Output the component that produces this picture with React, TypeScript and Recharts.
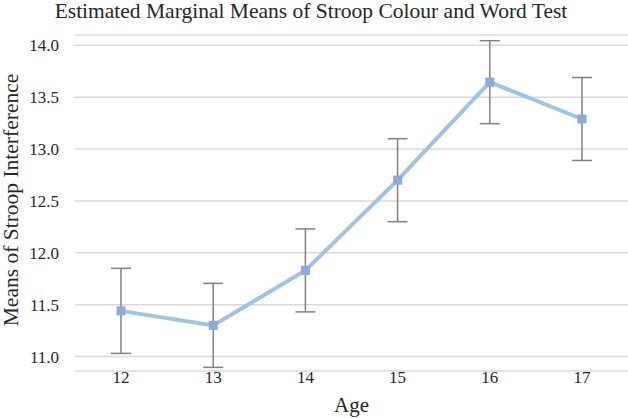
import { CartesianGrid, ErrorBar, Label, Line, LineChart, XAxis, YAxis } from 'recharts'

const ages = ['12', '13', '14', '15', '16', '17']
const means = [11.44, 11.3, 11.83, 12.7, 13.645, 13.29]
const errors = [0.41, 0.405, 0.4, 0.4, 0.4, 0.4]
const yTicks = [11, 11.5, 12, 12.5, 13, 13.5, 14]

const data = ages.map((age, i) => ({ age, mean: means[i], err: errors[i] }))

const font = '"Liberation Serif", "Times New Roman", serif'
const textColor = '#262626'
const tickFont = { fontFamily: font, fontSize: '17px', fill: textColor }

function SquareDot(props: any) {
  const { cx, cy } = props
  if (cx == null || cy == null) return null
  return <rect x={cx - 4.5} y={cy - 4.5} width={9} height={9} fill="#8eaadb" />
}

const renderXTick = (props: any) => (
  <g key={`x-${props.index}`} transform={`translate(${props.x},${props.y})`}>
    <text textAnchor="middle" style={tickFont}>
      <tspan x={0} dy="0.71em" style={tickFont}>
        {props.payload.value}
      </tspan>
    </text>
  </g>
)

const renderYTick = (props: any) => (
  <g key={`y-${props.index}`} transform={`translate(${props.x},${props.y})`}>
    <text textAnchor="end" style={tickFont}>
      <tspan x={0} dy="0.355em" style={tickFont}>
        {Number(props.payload.value).toFixed(1)}
      </tspan>
    </text>
  </g>
)

function YTitle(props: any) {
  const vb = props.viewBox || {}
  const cy = vb.y + vb.height / 2 - 3
  return (
    <text
      x={18}
      y={cy}
      transform={`rotate(-90, 18, ${cy})`}
      textAnchor="middle"
      style={{ fontFamily: font, fontSize: 21.5, fill: textColor }}
    >
      Means of Stroop Interference
    </text>
  )
}

export default function App() {
  return (
    <div style={{ position: 'absolute', left: 0, top: 0, width: 628, height: 418, background: '#fff' }}>
      <LineChart width={628} height={418} data={data} margin={{ top: 35, right: 0, left: 0, bottom: 0 }}>
        <CartesianGrid stroke="#d9d9d9" strokeWidth={1.5} vertical={false} />
        <XAxis
          dataKey="age"
          height={47}
          padding={{ left: 46, right: 46 }}
          axisLine={false}
          tickLine={false}
          tickSize={0}
          tickMargin={0}
          tick={renderXTick}
        >
          <Label value="Age" position="insideBottom" offset={6} fill={textColor} fontSize={21} fontFamily={font} />
        </XAxis>
        <YAxis
          width={75}
          domain={[10.86, 14.1]}
          allowDataOverflow
          ticks={yTicks}
          axisLine={false}
          tickLine={false}
          tickMargin={10}
          tick={renderYTick}
        >
          <Label content={YTitle} />
        </YAxis>
        <Line
          dataKey="mean"
          stroke="#9dc3e6"
          strokeWidth={4}
          dot={SquareDot}
          activeDot={false}
          isAnimationActive={false}
        >
          <ErrorBar dataKey="err" width={10} stroke="#808080" strokeWidth={1.5} isAnimationActive={false} />
        </Line>
      </LineChart>
      <svg width={628} height={30} style={{ position: 'absolute', left: 0, top: 0, pointerEvents: 'none' }}>
        <text x={311} y={18} textAnchor="middle" style={{ fontFamily: font, fontSize: 21.5, fill: textColor }}>
          Estimated Marginal Means of Stroop Colour and Word Test
        </text>
      </svg>
    </div>
  )
}
